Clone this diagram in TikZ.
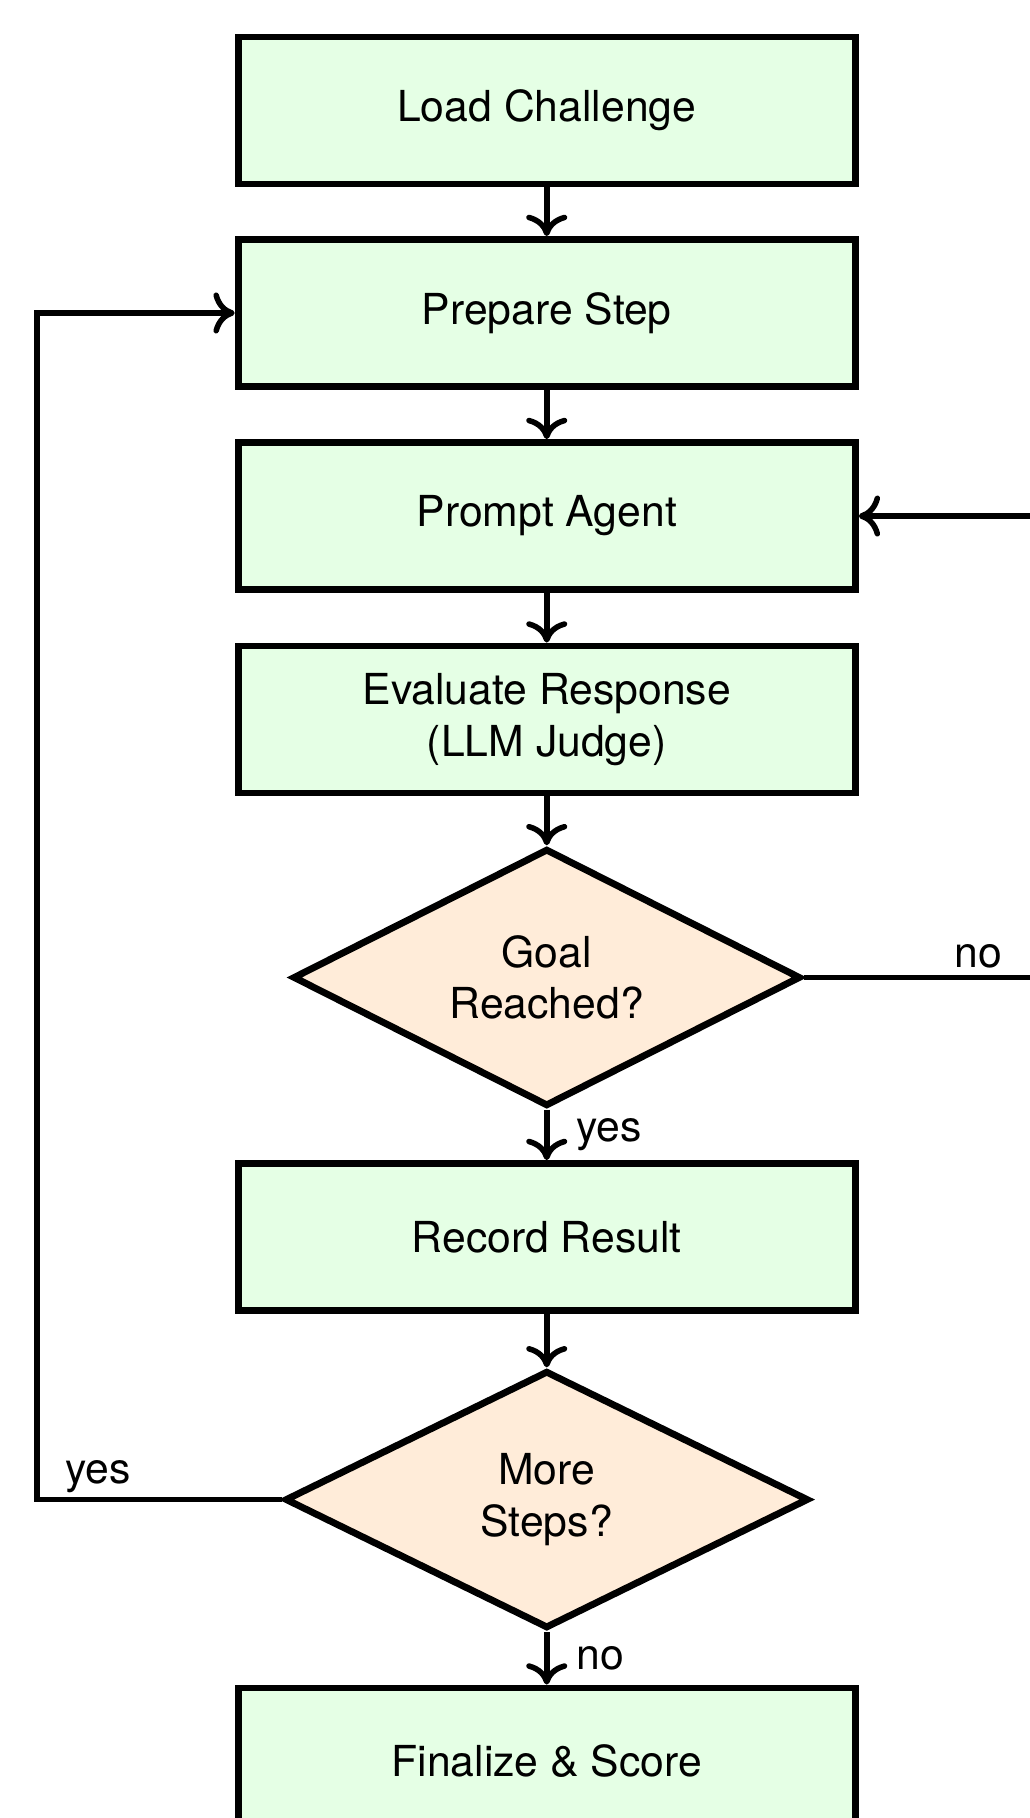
\documentclass[tikz,border=0pt]{standalone}
\usepackage{fontspec}
\setmainfont{TeX Gyre Heros}
\usetikzlibrary{shapes.geometric,arrows.meta}

\begin{document}
\begin{tikzpicture}[
    stepbox/.style={draw, line width=1.6pt, fill=green!10, minimum width=5.08cm, minimum height=1.21cm, align=center},
    decision/.style={draw, diamond, aspect=2, line width=1.6pt, fill=orange!15, minimum width=4.25cm, minimum height=2.12cm, inner sep=0pt, align=center},
    flow/.style={-{To[length=5pt,width=9.6pt]}, line width=1.3pt}
]
    \path[use as bounding box, clip] (0,0) rectangle (8.477,-14.963);
    \node[stepbox] (load) at (4.5,-0.91) {Load Challenge};
    \node[stepbox] (prep) at (4.5,-2.576) {Prepare Step};
    \node[stepbox] (prompt) at (4.5,-4.247) {Prompt Agent};
    \node[stepbox] (eval) at (4.5,-5.922) {Evaluate Response\\(LLM Judge)};
    \node[decision, minimum width=4.18cm] (goal) at (4.5,-8.045) {Goal\\Reached?};
    \node[stepbox] (record) at (4.5,-10.181) {Record Result};
    \node[decision, minimum width=4.31cm] (more) at (4.5,-12.342) {More\\Steps?};
    \node[stepbox] (final) at (4.5,-14.498) {Finalize \& Score};
    \coordinate (noturn) at (8.527,-8.045);
    \coordinate (yesturn) at (0.305,-12.342);
    \draw[flow] (load) -- (prep);
    \draw[flow] (prep) -- (prompt);
    \draw[flow] (prompt) -- (eval);
    \draw[flow] (eval) -- (goal);
    \draw[flow] (goal) -- node[right=3pt]{yes} (record);
    \draw[flow] (record) -- (more);
    \draw[flow] (more) -- node[right=3pt]{no} (final);
    \draw[flow] (goal.east) -- node[above, near end, inner sep=1.5pt]{no} (noturn) |- (prompt.east);
    \draw[flow] (more.west) -- node[above, near end, inner sep=1pt]{yes} (yesturn) |- (prep.west);
\end{tikzpicture}
\end{document}
